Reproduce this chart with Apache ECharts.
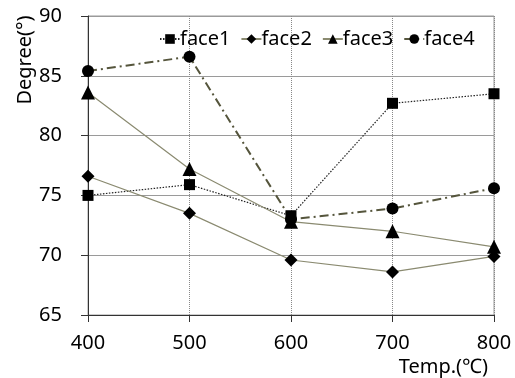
<!DOCTYPE html>
<html>
<head>
<meta charset="utf-8">
<script src="https://cdn.jsdelivr.net/npm/echarts@6/dist/echarts.min.js"></script>
<style>
  html, body { margin: 0; padding: 0; background: #fff; }
</style>
</head>
<body>
<div id="chart" style="width:515px;height:378px;"></div>
<script>
// temperatures (x axis)
var temps = [400, 500, 600, 700, 800];
// contact angle per face
var face1 = [75.0, 75.9, 73.3, 82.7, 83.5];
var face2 = [76.6, 73.5, 69.6, 68.6, 69.9];
var face3 = [83.6, 77.2, 72.8, 72.0, 70.7];
var face4 = [85.4, 86.6, 73.0, 73.9, 75.6];
var seriesNames = ["face1", "face2", "face3", "face4"];

function pairs(arr) {
  return temps.map(function (t, i) { return [t, arr[i]]; });
}

var font = "'Noto Sans', 'Open Sans', sans-serif";
var chart = echarts.init(document.getElementById("chart"));

chart.setOption({
  animation: false,
  textStyle: { fontFamily: font },
  grid: {
    left: 88, right: 21, top: 16, bottom: 63,
    show: true, borderColor: "#9a9a9a", borderWidth: 1
  },
  legend: {
    data: seriesNames,
    top: 24,
    left: 154,
    itemWidth: 20,
    itemHeight: 12,
    itemGap: 10,
    textStyle: { fontSize: 20, color: "#000", fontFamily: font, padding: [0, 0, 0, -5] }
  },
  xAxis: {
    type: "value",
    min: 400, max: 800, interval: 100,
    axisLine: { show: true, onZero: false, lineStyle: { color: "#333", width: 1 } },
    axisTick: { show: true, inside: false, length: 7, lineStyle: { color: "#333" } },
    axisLabel: { fontSize: 20, color: "#000", margin: 18 },
    splitLine: { show: true, lineStyle: { color: "#888", type: [1, 1], width: 1 } }
  },
  yAxis: {
    type: "value",
    min: 65, max: 90, interval: 5,
    axisLine: { show: true, lineStyle: { color: "#333", width: 1 } },
    axisTick: { show: true, inside: false, length: 7, lineStyle: { color: "#333" } },
    axisLabel: { fontSize: 20, color: "#000", margin: 26 },
    splitLine: { show: true, lineStyle: { color: "#9a9a9a", width: 1 } }
  },
  graphic: [
    {
      type: "text", x: 25, y: 60, rotation: Math.PI / 2,
      style: { text: "Degree(°)", fontSize: 20, fill: "#000", fontFamily: font, align: "center", verticalAlign: "middle" }
    },
    {
      type: "text", x: 488, y: 367,
      style: { text: "Temp.(℃)", fontSize: 20, fill: "#000", fontFamily: font, align: "right", verticalAlign: "middle" }
    }
  ],
  series: [
    {
      name: "face1", type: "line", data: pairs(face1),
      symbol: "rect", symbolSize: 11,
      itemStyle: { color: "#000" },
      lineStyle: { color: "#222", width: 1.2, type: [1.5, 1.5] }
    },
    {
      name: "face2", type: "line", data: pairs(face2),
      symbol: "diamond", symbolSize: 13,
      itemStyle: { color: "#000" },
      lineStyle: { color: "#8a8a70", width: 1.2, type: "solid" }
    },
    {
      name: "face3", type: "line", data: pairs(face3),
      symbol: "triangle", symbolSize: 14,
      itemStyle: { color: "#000" },
      lineStyle: { color: "#8a8a70", width: 1.2, type: "solid" }
    },
    {
      name: "face4", type: "line", data: pairs(face4),
      symbol: "circle", symbolSize: 12,
      itemStyle: { color: "#000" },
      lineStyle: { color: "#55553c", width: 2, type: [9, 4, 2, 4] }
    }
  ]
});
</script>
</body>
</html>
